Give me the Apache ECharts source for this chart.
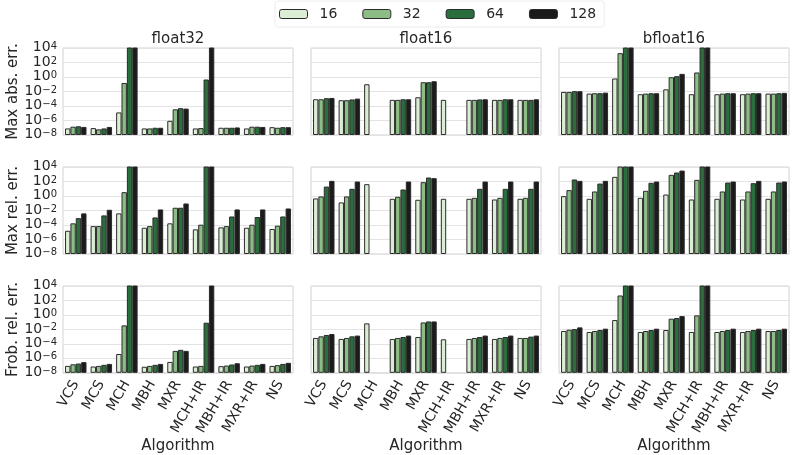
<!DOCTYPE html>
<html>
<head>
<meta charset="utf-8">
<script src="https://cdn.jsdelivr.net/npm/echarts@6/dist/echarts.min.js"></script>
<style>
  html, body { margin: 0; padding: 0; background: #fff; }
  #chart { width: 797px; height: 455px; }
</style>
</head>
<body>
<div id="chart"></div>
<script>
var algorithms = ['VCS', 'MCS', 'MCH', 'MBH', 'MXR', 'MCH+IR', 'MBH+IR', 'MXR+IR', 'NS'];
var sizes = ['16', '32', '64', '128'];
var precisions = ['float32', 'float16', 'bfloat16'];
var metrics = ['Max abs. err.', 'Max rel. err.', 'Frob. rel. err.'];

// rows = algorithm, columns = 16, 32, 64, 128 ('-' = no result)
var f32MaxAbs = [
  [8e-8, 1.4e-7, 1.6e-7, 1.3e-7],
  [9e-8, 6e-8, 8e-8, 1.3e-7],
  [1.3e-5, 0.15, 1e6, 1e6],
  [8e-8, 8e-8, 1e-7, 1e-7],
  [9e-7, 3.5e-5, 5e-5, 4.4e-5],
  [8e-8, 9e-8, 0.45, 1e6],
  [1e-7, 1e-7, 1e-7, 1.1e-7],
  [8e-8, 1.4e-7, 1.4e-7, 1.3e-7],
  [1.2e-7, 1e-7, 1.2e-7, 1.2e-7]
];
var f16MaxAbs = [
  [8.5e-4, 8.5e-4, 1.2e-3, 1.3e-3],
  [6.3e-4, 6.3e-4, 8e-4, 1.05e-3],
  [0.1, '-', '-', '-'],
  [7e-4, 7e-4, 8.5e-4, 8.5e-4],
  [1.6e-3, 0.19, 0.19, 0.26],
  [7e-4, '-', '-', '-'],
  [7e-4, 7e-4, 8e-4, 8.5e-4],
  [7e-4, 7e-4, 8.5e-4, 8.5e-4],
  [7e-4, 7e-4, 7e-4, 8.5e-4]
];
var bf16MaxAbs = [
  [8.7e-3, 8.7e-3, 0.011, 0.011],
  [5.1e-3, 5.8e-3, 5.8e-3, 7e-3],
  [0.62, 1950, 1e6, 1e6],
  [4.2e-3, 5.1e-3, 5.8e-3, 5.8e-3],
  [0.02, 0.93, 1.3, 2.7],
  [4.2e-3, 4.2, 1e6, 1e6],
  [4.2e-3, 5.1e-3, 5.8e-3, 5.8e-3],
  [4.2e-3, 5.1e-3, 5.8e-3, 5.8e-3],
  [5.1e-3, 5.1e-3, 5.8e-3, 6.5e-3]
];
var f32MaxRel = [
  [1.6e-5, 1.7e-4, 8.9e-4, 4e-3],
  [7e-5, 7e-5, 2.1e-3, 0.0126],
  [4e-3, 3.4, 1e6, 1e6],
  [4.2e-5, 7e-5, 1.1e-3, 0.014],
  [1.7e-4, 0.024, 0.024, 0.093],
  [2.5e-5, 1.1e-4, 1e6, 1e6],
  [4.7e-5, 7e-5, 1.5e-3, 0.014],
  [4.2e-5, 1.1e-4, 1.26e-3, 0.014],
  [2.8e-5, 8e-5, 1.5e-3, 0.019]
];
var f16MaxRel = [
  [0.46, 0.87, 20, 123],
  [0.13, 0.87, 9.8, 100],
  [43, '-', '-', '-'],
  [0.41, 0.78, 7.9, 100],
  [0.3, 81, 355, 290],
  [0.41, '-', '-', '-'],
  [0.41, 0.56, 9.8, 100],
  [0.33, 0.56, 9.8, 100],
  [0.41, 0.56, 9.8, 100]
];
var bf16MaxRel = [
  [0.95, 6.5, 190, 123],
  [0.41, 4.2, 52, 123],
  [440, 1e6, 1e6, 1e6],
  [0.56, 5.2, 66, 100],
  [1.6, 830, 1740, 3240],
  [0.33, 170, 1e6, 1e6],
  [0.41, 4.2, 72, 100],
  [0.33, 4.2, 59, 123],
  [0.41, 4.2, 72, 100]
];
var f32Frob = [
  [9e-8, 1.5e-7, 1.9e-7, 3e-7],
  [7.4e-8, 9e-8, 1.26e-7, 1.7e-7],
  [4e-6, 0.036, 1e6, 1e6],
  [6.8e-8, 9e-8, 1.26e-7, 1.7e-7],
  [3.2e-7, 1.07e-5, 1.5e-5, 1.07e-5],
  [7.4e-8, 9e-8, 0.085, 1e6],
  [8.3e-8, 1e-7, 1.4e-7, 2.1e-7],
  [7.4e-8, 1e-7, 1.26e-7, 1.7e-7],
  [9e-8, 1.15e-7, 1.7e-7, 2.4e-7]
];
var f16Frob = [
  [6.6e-4, 1.1e-3, 1.7e-3, 2.3e-3],
  [4.8e-4, 6.6e-4, 1.1e-3, 1.4e-3],
  [0.068, '-', '-', '-'],
  [4.8e-4, 6.6e-4, 8.9e-4, 1.4e-3],
  [8.9e-4, 0.091, 0.126, 0.126],
  [4.3e-4, '-', '-', '-'],
  [4.8e-4, 6.6e-4, 8.9e-4, 1.4e-3],
  [4.8e-4, 6.6e-4, 8.9e-4, 1.4e-3],
  [6.6e-4, 6.6e-4, 1e-3, 1.4e-3]
];
var bf16Frob = [
  [6e-3, 9.1e-3, 0.011, 0.019],
  [4.4e-3, 6e-3, 8.3e-3, 0.0126],
  [0.195, 490, 1e6, 1e6],
  [4.4e-3, 6e-3, 8.3e-3, 0.0126],
  [8.3e-3, 0.3, 0.37, 0.69],
  [4.4e-3, 0.87, 1e6, 1e6],
  [4.4e-3, 6e-3, 8.3e-3, 0.0126],
  [4.4e-3, 6e-3, 8.3e-3, 0.0126],
  [6e-3, 6e-3, 8.3e-3, 0.0126]
];

var panels = [
  [f32MaxAbs, f16MaxAbs, bf16MaxAbs],
  [f32MaxRel, f16MaxRel, bf16MaxRel],
  [f32Frob, f16Frob, bf16Frob]
];
var colors = ['#dbeed5', '#8bbd84', '#2a6e3d', '#1b1b1b'];

var colLeft = [63, 311, 559];
var rowTop = [48, 167, 286];
var panelW = 230, panelH = 87;
var textColor = '#262626';
var font = 'DejaVu Sans';

var chart = echarts.init(document.getElementById('chart'));

function supLabel(v) {
  var e = Math.round(Math.log10(v));
  return '{b|10}{s|' + (e < 0 ? '\u2212' + (-e) : e) + '}';
}

var grids = [], xAxes = [], yAxes = [], series = [], titles = [];
for (var c = 0; c < 3; c++) {
  titles.push({
    text: precisions[c],
    left: colLeft[c] + panelW / 2,
    top: 32,
    textAlign: 'center',
    padding: 0,
    textStyle: { fontFamily: font, fontSize: 15, fontWeight: 'normal', color: textColor }
  });
}
for (var r = 0; r < 3; r++) {
  for (var c = 0; c < 3; c++) {
    var gi = r * 3 + c;
    grids.push({
      left: colLeft[c], top: rowTop[r], width: panelW, height: panelH,
      show: true, borderColor: '#d2d2d2', borderWidth: 1, backgroundColor: '#fff'
    });
    xAxes.push({
      type: 'category', gridIndex: gi, data: algorithms,
      axisLine: { show: false }, axisTick: { show: false },
      axisLabel: {
        show: r === 2, rotate: 60, interval: 0, margin: 9,
        fontFamily: font, fontSize: 14, color: textColor
      },
      name: r === 2 ? 'Algorithm' : '', nameLocation: 'middle', nameGap: 66,
      nameTextStyle: { fontFamily: font, fontSize: 15, color: textColor }
    });
    yAxes.push({
      type: 'log', logBase: 10, gridIndex: gi, min: 1e-8, max: 1e4, interval: 2,
      startValue: 1e-8,
      axisLine: { show: false }, axisTick: { show: false },
      splitLine: { show: true, lineStyle: { color: '#e3e3e3', width: 1 } },
      axisLabel: {
        show: c === 0, margin: 6, formatter: supLabel,
        showMinLabel: true, showMaxLabel: true, hideOverlap: false,
        fontFamily: font, color: textColor, lineHeight: 13,
        rich: {
          b: { fontFamily: font, fontSize: 14, lineHeight: 13, verticalAlign: 'bottom', color: textColor },
          s: { fontFamily: font, fontSize: 10, lineHeight: 3, verticalAlign: 'top', color: textColor }
        }
      },
      name: c === 0 ? metrics[r] : '', nameLocation: 'middle', nameGap: 37, nameRotate: 90,
      nameTextStyle: { fontFamily: font, fontSize: 15, color: textColor }
    });
    var tbl = panels[r][c];
    for (var s = 0; s < 4; s++) {
      series.push({
        type: 'bar', name: sizes[s], xAxisIndex: gi, yAxisIndex: gi,
        data: tbl.map(function (row) { return row[s]; }),
        barGap: '0%', barCategoryGap: '16%', clip: true,
        itemStyle: { color: colors[s], borderColor: '#2b2b2b', borderWidth: 1 },
        emphasis: { disabled: true }
      });
    }
  }
}

chart.setOption({
  backgroundColor: '#fff',
  animation: false,
  title: titles,
  legend: {
    data: sizes, left: 275, top: 1,
    itemWidth: 28, itemHeight: 9, itemGap: 25,
    padding: [6, 8, 6, 4],
    borderColor: '#ececec', borderWidth: 1, borderRadius: 3,
    itemStyle: { borderColor: '#2b2b2b', borderWidth: 1 },
    textStyle: { fontFamily: font, fontSize: 14, color: textColor, padding: [0, 0, 0, 7] }
  },
  grid: grids,
  xAxis: xAxes,
  yAxis: yAxes,
  series: series
});
</script>
</body>
</html>
